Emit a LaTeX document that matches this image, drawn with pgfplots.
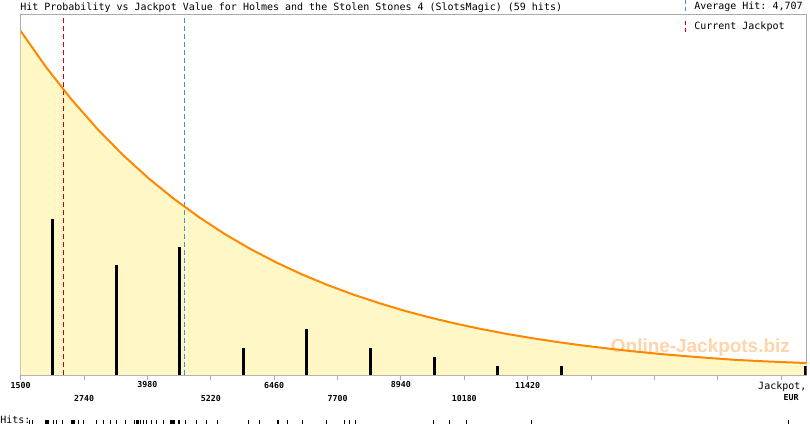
\documentclass[border=0pt]{standalone}
\usepackage{pgfplots}
\pgfplotsset{compat=1.18}
\usepackage{fontspec}
\setmonofont{DejaVu Sans Mono}
\newfontfamily\wmfont{Liberation Sans}

\definecolor{fillyellow}{RGB}{255,247,198}
\definecolor{curveorange}{RGB}{255,136,0}
\definecolor{axisgray}{RGB}{170,170,170}
\definecolor{jpred}{RGB}{210,0,0}
\definecolor{avgblue}{RGB}{60,150,200}
\definecolor{wmorange}{RGB}{255,212,168}

\newcommand\titlefont{\ttfamily\fontsize{7.5}{8}\selectfont}
\newcommand\tickfont{\ttfamily\bfseries\fontsize{6.2}{7}\selectfont}

% fitted hit probability (relative height)
\pgfplotstableread{
x y
1500 344
2000 307.7
2500 275.2
3000 246.1
3500 220.1
4000 196.8
4500 176.1
5000 157.5
5500 140.8
6000 125.9
6500 112.6
7000 100.7
7500 90.1
8000 80.6
8500 72.1
9000 64.4
9500 57.6
10000 51.5
10500 46.1
11000 41.2
11500 36.9
12000 33.0
12500 29.5
13000 26.4
13500 23.6
14000 21.1
14500 18.9
15000 16.9
15500 15.1
16000 13.8
16500 12.7
16880 12.0
}\probtable

\begin{document}
\begin{tikzpicture}
\path[use as bounding box] (0,0) rectangle (607.5pt,318.75pt);

% title and legend
\node[anchor=west, inner sep=0pt, font=\titlefont] at (15pt,313.1pt)
  {Hit Probability vs Jackpot Value for Holmes and the Stolen Stones 4 (SlotsMagic) (59 hits)};
\draw[avgblue, line width=0.75pt, dash pattern=on 3pt off 2.25pt] (514.3pt,318.75pt) -- (514.3pt,309.75pt);
\node[anchor=west, inner sep=0pt, font=\titlefont] at (520.5pt,313.7pt) {Average Hit: 4,707};
\draw[jpred, line width=0.75pt, dash pattern=on 3pt off 2.25pt] (514.3pt,303pt) -- (514.3pt,294pt);
\node[anchor=west, inner sep=0pt, font=\titlefont] at (520.5pt,298.5pt) {Current Jackpot};

\begin{axis}[
  at={(15.5pt,37.5pt)}, anchor=south west,
  scale only axis, width=589.5pt, height=270pt,
  xmin=1500, xmax=16880, ymin=0, ymax=360,
  scaled x ticks=false,
  axis line style={draw=axisgray, line width=0.75pt},
  xtick={1500,3980,6460,8940,11420,13900,16380},
  xticklabels={1500,3980,6460,8940,11420,,},
  extra x ticks={2740,5220,7700,10180,12660,15140},
  extra x tick labels={2740,5220,7700,10180,,},
  extra x tick style={xticklabel style={yshift=-9.75pt}},
  ytick=\empty,
  xtick pos=bottom,
  tick align=outside,
  major tick length=3.75pt,
  tick style={draw=axisgray, line width=0.75pt},
  xticklabel style={font=\tickfont, anchor=center, yshift=-3.75pt, inner sep=0pt},
]
\addplot[fill=fillyellow, draw=none] table[x=x, y=y] {\probtable} \closedcycle;
\node[font=\wmfont\bfseries\fontsize{14.2}{16}\selectfont, text=wmorange, inner sep=0pt]
  at (axis cs:14800,27) {Online-Jackpots.biz};
\addplot[jpred, line width=0.75pt, dash pattern=on 3.75pt off 2.25pt] coordinates {(2334,0) (2334,360)};
\addplot[avgblue, line width=0.75pt, dash pattern=on 3.75pt off 2.25pt] coordinates {(4707,0) (4707,360)};
\addplot[curveorange, line width=1.5pt] table[x=x, y=y] {\probtable};
\end{axis}

% hit counts per bin
\begin{axis}[
  at={(15.5pt,37.5pt)}, anchor=south west,
  scale only axis, width=589.5pt, height=270pt,
  xmin=1500, xmax=16880, ymin=0, ymax=39.3,
  hide axis,
]
\addplot[ycomb, black, line width=2.25pt, mark=none] coordinates {
  (2119,17) (3371,12) (4604,14) (5857,3) (7090,5)
  (8343,3) (9596,2) (10829,1) (12081,1) (16865,1)
};
\end{axis}

% individual hits
\node[anchor=west, inner sep=0pt, font=\titlefont] at (0pt,3.6pt) {Hits:};
\begin{axis}[
  at={(15.5pt,0.75pt)}, anchor=south west,
  scale only axis, width=589.5pt, height=3pt,
  xmin=1500, xmax=16880, ymin=0, ymax=1,
  scaled x ticks=false,
  hide axis, clip=false,
]
\addplot[ycomb, black, line width=0.75pt, mark=none] coordinates {
  (1682,1) (1741,1) (1989,1) (2000,1) (2021,1) (2040,1) (2054,1) (2138,1)
  (2205,1) (2314,1) (2498,1) (2515,1) (2530,1) (2545,1) (2563,1) (2641,1) (2725,1)
  (2988,1) (3117,1) (3248,1) (3379,1) (3555,1) (3737,1) (3771,1) (3785,1)
  (3802,1) (3835,1) (3913,1) (3966,1)
  (4064,1) (4162,1) (4291,1) (4436,1) (4450,1) (4467,1) (4485,1) (4501,1)
  (4585,1) (4600,1) (4716,1) (4945,1) (5127,1) (5140,1)
  (5348,1) (5955,1) (6164,1)
  (6523,1) (6540,1) (6719,1) (7020,1) (7490,1)
  (7828,1) (7932,1) (8044,1)
  (9576,1) (9889,1) (10230,1) (11502,1) (16525,1)
};
\end{axis}

\node[anchor=east, inner sep=0pt, font=\titlefont] at (605pt,28.7pt) {Jackpot,};
\node[inner sep=0pt, font=\tickfont] at (593.3pt,20.25pt) {EUR};
\end{tikzpicture}
\end{document}
